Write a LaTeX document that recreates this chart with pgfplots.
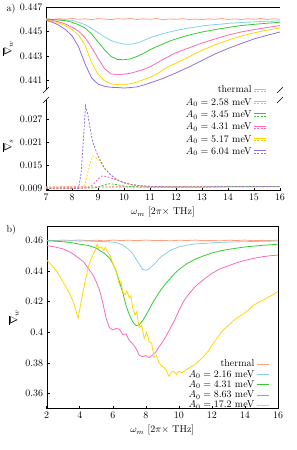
\documentclass[border=0pt]{standalone}
\usepackage{pgfplots}
\pgfplotsset{compat=1.18}
\definecolor{cth}{HTML}{FF9F80}
\definecolor{cbl}{HTML}{87CEEB}
\definecolor{cgr}{HTML}{33CC33}
\definecolor{cpk}{HTML}{FF69B4}
\definecolor{cyl}{HTML}{FFD700}
\definecolor{cpu}{HTML}{9370DB}
\tikzset{dashed2/.style={dash pattern=on 2pt off 1.5pt}}
\pgfplotsset{
  every axis plot/.append style={line width=0.8pt},
  base/.style={scale only axis, anchor=south west, scaled y ticks=false, scaled x ticks=false,
    xtick pos=bottom, ytick pos=left, tick style={black, line width=0.5pt},
    major tick length=3pt},
}
\begin{document}
\begin{tikzpicture}
\path[use as bounding box] (0,0) rectangle (297bp,450bp);
% ---------- panel a, top ----------
\begin{axis}[base, at={(46bp,360bp)}, width=234bp, height=83bp,
  xmin=7, xmax=16, ymin=0.4402, ymax=0.447,
  xtick=\empty, ytick={0.441,0.443,0.445,0.447},
  yticklabel style={/pgf/number format/.cd, fixed, fixed zerofill, precision=3},
  ylabel={$\overline{\nabla}_w$},
  axis line style={draw=none}, clip=true]
\draw[black, line width=0.5pt] (rel axis cs:0,0) -- (rel axis cs:0,1) -- (rel axis cs:1,1) -- (rel axis cs:1,0);
\addplot[cth] coordinates {(7,0.44605)(7.25,0.44598)(7.5,0.44604)(7.75,0.44600)(8,0.44606)(8.25,0.44599)(8.5,0.44603)(8.75,0.44597)(9,0.44605)(9.25,0.44601)(9.5,0.44596)(9.75,0.44604)(10,0.44600)(10.25,0.44606)(10.5,0.44598)(10.75,0.44603)(11,0.44599)(11.25,0.44605)(11.5,0.44597)(11.75,0.44602)(12,0.44599)(12.25,0.44604)(12.5,0.44598)(12.75,0.44601)(13,0.44596)(13.25,0.44603)(13.5,0.44599)(13.75,0.44605)(14,0.44598)(14.25,0.44602)(14.5,0.44597)(14.75,0.44604)(15,0.44600)(15.25,0.44606)(15.5,0.44598)(15.75,0.44603)(16,0.44599)};
\addplot[cbl] coordinates {(7,0.44600)(7.25,0.44598)(7.5,0.44595)(7.75,0.44594)(8,0.44590)(8.25,0.44575)(8.5,0.44555)(8.75,0.44525)(9,0.44490)(9.25,0.44455)(9.5,0.44425)(9.75,0.44408)(10,0.44396)(10.25,0.44394)(10.5,0.44405)(10.75,0.44425)(11,0.44448)(11.25,0.44465)(11.5,0.44482)(11.75,0.44495)(12,0.44507)(12.25,0.44518)(12.5,0.44528)(12.75,0.44535)(13,0.44545)(13.25,0.44550)(13.5,0.44556)(13.75,0.44560)(14,0.44566)(14.5,0.44572)(15,0.44578)(15.5,0.44583)(16,0.44586)};
\addplot[cgr] coordinates {(7,0.44600)(7.25,0.44597)(7.5,0.44593)(7.75,0.44588)(8,0.44575)(8.25,0.44555)(8.5,0.44528)(8.75,0.44480)(9,0.44415)(9.25,0.44350)(9.5,0.44295)(9.75,0.44270)(10,0.44268)(10.25,0.44275)(10.5,0.44295)(10.75,0.44320)(11,0.44350)(11.25,0.44375)(11.5,0.44398)(11.75,0.44420)(12,0.44438)(12.25,0.44455)(12.5,0.44470)(12.75,0.44483)(13,0.44495)(13.5,0.44515)(14,0.44532)(14.5,0.44548)(15,0.44558)(15.5,0.44567)(16,0.44575)};
\addplot[cpk] coordinates {(7,0.44596)(7.25,0.44590)(7.5,0.44578)(7.75,0.44560)(8,0.44535)(8.25,0.44502)(8.5,0.44450)(8.75,0.44370)(9,0.44280)(9.25,0.44195)(9.5,0.44152)(9.75,0.44145)(10,0.44150)(10.25,0.44157)(10.5,0.44172)(10.75,0.44188)(11,0.44210)(11.25,0.44240)(11.5,0.44270)(11.75,0.44298)(12,0.44325)(12.25,0.44345)(12.5,0.44365)(12.75,0.44385)(13,0.44405)(13.5,0.44438)(14,0.44470)(14.5,0.44495)(15,0.44515)(15.5,0.44532)(16,0.44548)};
\addplot[cyl] coordinates {(7,0.44593)(7.25,0.44583)(7.5,0.44568)(7.75,0.44545)(8,0.44515)(8.25,0.44470)(8.5,0.44390)(8.75,0.44245)(9,0.44150)(9.25,0.44095)(9.5,0.44070)(9.75,0.44064)(10,0.44063)(10.25,0.44072)(10.5,0.44085)(10.75,0.44105)(11,0.44125)(11.25,0.44150)(11.5,0.44185)(11.75,0.44215)(12,0.44240)(12.25,0.44265)(12.5,0.44292)(12.75,0.44320)(13,0.44345)(13.5,0.44390)(14,0.44428)(14.5,0.44462)(15,0.44488)(15.5,0.44510)(16,0.44528)};
\addplot[cpu] coordinates {(7,0.44590)(7.25,0.44575)(7.5,0.44550)(7.75,0.44515)(8,0.44465)(8.25,0.44375)(8.5,0.44235)(8.75,0.44120)(9,0.44068)(9.25,0.44050)(9.5,0.44042)(9.75,0.44040)(10,0.44036)(10.25,0.44040)(10.5,0.44046)(10.75,0.44060)(11,0.44078)(11.25,0.44096)(11.5,0.44115)(11.75,0.44138)(12,0.44160)(12.25,0.44185)(12.5,0.44208)(12.75,0.44235)(13,0.44262)(13.5,0.44315)(14,0.44360)(14.5,0.44400)(15,0.44438)(15.5,0.44468)(16,0.44495)};
\end{axis}
% ---------- panel a, bottom ----------
\begin{axis}[base, at={(46bp,259.3bp)}, width=234bp, height=90.7bp,
  xmin=7, xmax=16, ymin=0.0085, ymax=0.032,
  xtick={7,8,...,16}, ytick={0.009,0.015,0.021,0.027},
  yticklabel style={/pgf/number format/.cd, fixed, fixed zerofill, precision=3},
  ylabel={$\overline{\nabla}_s$},
  xlabel={$\omega_m$ [$2\pi\times$ THz]},
  axis line style={draw=none},
  legend plot pos=right,
  legend cell align=right,
  legend image code/.code={\draw[#1,solid] (0cm,1.2pt) -- (0.42cm,1.2pt); \draw[#1,dashed2] (0cm,-1.2pt) -- (0.42cm,-1.2pt);},
  legend style={draw=none, fill=none, at={(0.955,1.2)}, anchor=north east, font=\normalsize}]
\draw[black, line width=0.5pt] (rel axis cs:0,1) -- (rel axis cs:0,0) -- (rel axis cs:1,0) -- (rel axis cs:1,1);
\addplot[cth, dashed2] coordinates {(7,0.0095)(8,0.0096)(9,0.0095)(10,0.0096)(11,0.0095)(12,0.0096)(13,0.0095)(14,0.0096)(15,0.0095)(16,0.0096)};
\addlegendentry{thermal}
\addplot[cbl, dashed2] coordinates {(7,0.0093)(8,0.0093)(9,0.0094)(10,0.0094)(11,0.0094)(12,0.0094)(13,0.0095)(14,0.0095)(15,0.0095)(16,0.0095)};
\addlegendentry{$A_0=2.58$ meV}
\addplot[cgr, dashed2] coordinates {(7,0.0092)(8,0.0092)(8.8,0.0092)(9,0.0094)(9.2,0.0099)(9.45,0.0103)(9.7,0.0101)(10,0.0097)(10.5,0.0095)(11,0.0094)(12,0.0094)(13,0.0094)(14,0.0095)(15,0.0095)(16,0.0095)};
\addlegendentry{$A_0=3.45$ meV}
\addplot[cpk, dashed2] coordinates {(7,0.0091)(8,0.0091)(8.6,0.0092)(8.8,0.0100)(9,0.0115)(9.15,0.0123)(9.3,0.0122)(9.5,0.0118)(9.7,0.0113)(10,0.0105)(10.3,0.0100)(10.7,0.0097)(11,0.0096)(12,0.0095)(13,0.0095)(14,0.0095)(15,0.0096)(16,0.0096)};
\addlegendentry{$A_0=4.31$ meV}
\addplot[cyl, dashed2] coordinates {(7,0.0091)(8,0.0091)(8.35,0.0091)(8.5,0.0102)(8.6,0.0130)(8.7,0.0158)(8.8,0.0175)(8.9,0.0172)(9.05,0.0163)(9.3,0.0140)(9.5,0.0126)(9.7,0.0115)(10,0.0106)(10.3,0.0101)(10.6,0.0098)(11,0.0096)(12,0.0095)(13,0.0095)(14,0.0096)(15,0.0096)(16,0.0096)};
\addlegendentry{$A_0=5.17$ meV}
\addplot[cpu, dashed2] coordinates {(7,0.0090)(8,0.0090)(8.25,0.0091)(8.35,0.0130)(8.45,0.0230)(8.52,0.0305)(8.6,0.0285)(8.7,0.0245)(8.8,0.0210)(9,0.0175)(9.25,0.0143)(9.5,0.0125)(9.75,0.0113)(10,0.0106)(10.3,0.0101)(10.6,0.0098)(11,0.0096)(12,0.0095)(13,0.0095)(14,0.0096)(15,0.0096)(16,0.0096)};
\addlegendentry{$A_0=6.04$ meV}
\end{axis}
% break marks
\foreach \xx in {46,280}{
  \draw[black, line width=0.5pt] (\xx bp-3bp,357bp) -- (\xx bp+3bp,363bp);
  \draw[black, line width=0.5pt] (\xx bp-3bp,347bp) -- (\xx bp+3bp,353bp);
}
\node[anchor=west] at (3bp,441bp) {a)};
\node[anchor=west] at (3bp,220bp) {b)};
% ---------- panel b ----------
\begin{axis}[base, at={(46.7bp,41.3bp)}, width=231.3bp, height=182.7bp,
  xmin=2, xmax=16, ymin=0.35, ymax=0.4695,
  xtick={2,4,...,16}, ytick={0.36,0.38,0.4,0.42,0.44,0.46},
  ylabel={$\overline{\nabla}_w$},
  xlabel={$\omega_m$ [$2\pi\times$ THz]},
  legend plot pos=right,
  legend cell align=right,
  legend image code/.code={\draw[#1] (0cm,0cm) -- (0.42cm,0cm);},
  legend style={draw=none, fill=none, at={(0.975,0.29)}, anchor=north east, row sep=-2pt}]
\addplot[cth] coordinates {(2,0.4602)(2.5,0.4599)(3,0.4603)(3.5,0.4600)(4,0.4604)(4.5,0.4599)(5,0.4602)(5.5,0.4598)(6,0.4603)(6.5,0.4600)(7,0.4602)(7.5,0.4599)(8,0.4603)(8.5,0.4600)(9,0.4601)(9.5,0.4598)(10,0.4602)(10.5,0.4600)(11,0.4603)(11.5,0.4599)(12,0.4601)(12.5,0.4598)(13,0.4602)(13.5,0.4600)(14,0.4603)(14.5,0.4599)(15,0.4601)(15.5,0.4600)(16,0.4602)};
\addlegendentry{thermal}
\addplot[cbl] coordinates {(2,0.4600)(2.5,0.4598)(3,0.4597)(3.5,0.4599)(4,0.4596)(4.5,0.4597)(5,0.4594)(5.5,0.4593)(6,0.4590)(6.3,0.4583)(6.6,0.4570)(6.9,0.4548)(7.2,0.4515)(7.4,0.4480)(7.6,0.4445)(7.8,0.4412)(8,0.4405)(8.2,0.4415)(8.4,0.4435)(8.6,0.4455)(8.8,0.4480)(9,0.4500)(9.25,0.4518)(9.5,0.4537)(10,0.4558)(10.5,0.4570)(11,0.4578)(11.5,0.4581)(12,0.4585)(12.5,0.4588)(13,0.4590)(13.5,0.4591)(14,0.4592)(15,0.4595)(16,0.4597)};
\addlegendentry{$A_0=2.16$ meV}
\addplot[cgr] coordinates {(2,0.4597)(2.5,0.4596)(3,0.4592)(3.5,0.4586)(4,0.4576)(4.5,0.4568)(5,0.4550)(5.5,0.4515)(5.8,0.4485)(6,0.4450)(6.2,0.4400)(6.4,0.4330)(6.6,0.4260)(6.8,0.4175)(7,0.4115)(7.2,0.4070)(7.4,0.4043)(7.6,0.4048)(7.8,0.4075)(8,0.4110)(8.2,0.4150)(8.4,0.4190)(8.6,0.4225)(8.8,0.4260)(9,0.4290)(9.25,0.4325)(9.5,0.4355)(9.75,0.4385)(10,0.4410)(10.5,0.4450)(11,0.4478)(11.5,0.4500)(12,0.4518)(12.5,0.4532)(13,0.4542)(13.5,0.4550)(14,0.4558)(15,0.4568)(16,0.4576)};
\addlegendentry{$A_0=4.31$ meV}
\addplot[cpk] coordinates {(2,0.4567)(2.5,0.4558)(3,0.4545)(3.5,0.4520)(4,0.4480)(4.25,0.4458)(4.5,0.4420)(4.8,0.4375)(5,0.4330)(5.2,0.4275)(5.4,0.4190)(5.6,0.4090)(5.8,0.4030)(6,0.4015)(6.2,0.4025)(6.4,0.4020)(6.6,0.3985)(6.8,0.3990)(7,0.3945)(7.2,0.3925)(7.4,0.3895)(7.6,0.3850)(7.8,0.3840)(8,0.3848)(8.2,0.3835)(8.4,0.3850)(8.6,0.3870)(8.8,0.3905)(9,0.3935)(9.2,0.3970)(9.4,0.4010)(9.7,0.4070)(10,0.4140)(10.3,0.4205)(10.6,0.4250)(11,0.4300)(11.5,0.4345)(12,0.4385)(12.5,0.4415)(13,0.4435)(13.5,0.4455)(14,0.4470)(14.5,0.4483)(15,0.4493)(15.5,0.4500)(16,0.4505)};
\addlegendentry{$A_0=8.63$ meV}
\addplot[cyl] coordinates {(2,0.4472)(2.3,0.4440)(2.6,0.4400)(2.9,0.4345)(3.2,0.4290)(3.4,0.4250)(3.6,0.4200)(3.75,0.4150)(3.9,0.4092)(4.05,0.4180)(4.2,0.4265)(4.35,0.4345)(4.5,0.4420)(4.65,0.4470)(4.8,0.4505)(4.95,0.4540)(5.05,0.4575)(5.15,0.4550)(5.3,0.4560)(5.45,0.4535)(5.55,0.4555)(5.7,0.4520)(5.85,0.4500)(6,0.4450)(6.1,0.4425)(6.25,0.4380)(6.4,0.4310)(6.5,0.4330)(6.6,0.4265)(6.75,0.4245)(6.85,0.4270)(7,0.4225)(7.1,0.4240)(7.2,0.4160)(7.35,0.4110)(7.45,0.4135)(7.6,0.4030)(7.75,0.4045)(7.9,0.3960)(8.05,0.4000)(8.2,0.3940)(8.35,0.3930)(8.5,0.3835)(8.65,0.3850)(8.8,0.3800)(9,0.3775)(9.2,0.3760)(9.4,0.3712)(9.55,0.3740)(9.7,0.3745)(9.85,0.3725)(10,0.3745)(10.2,0.3735)(10.4,0.3750)(10.6,0.3765)(10.8,0.3778)(11,0.3790)(11.2,0.3812)(11.4,0.3830)(11.6,0.3855)(11.8,0.3880)(12,0.3915)(12.2,0.3945)(12.4,0.3975)(12.6,0.4005)(12.8,0.4025)(13,0.4045)(13.3,0.4075)(13.6,0.4100)(13.9,0.4120)(14.2,0.4145)(14.5,0.4175)(14.8,0.4195)(15.1,0.4210)(15.4,0.4230)(15.7,0.4245)(16,0.4268)};
\addlegendentry{$A_0=17.2$ meV}
\end{axis}
\end{tikzpicture}
\end{document}
